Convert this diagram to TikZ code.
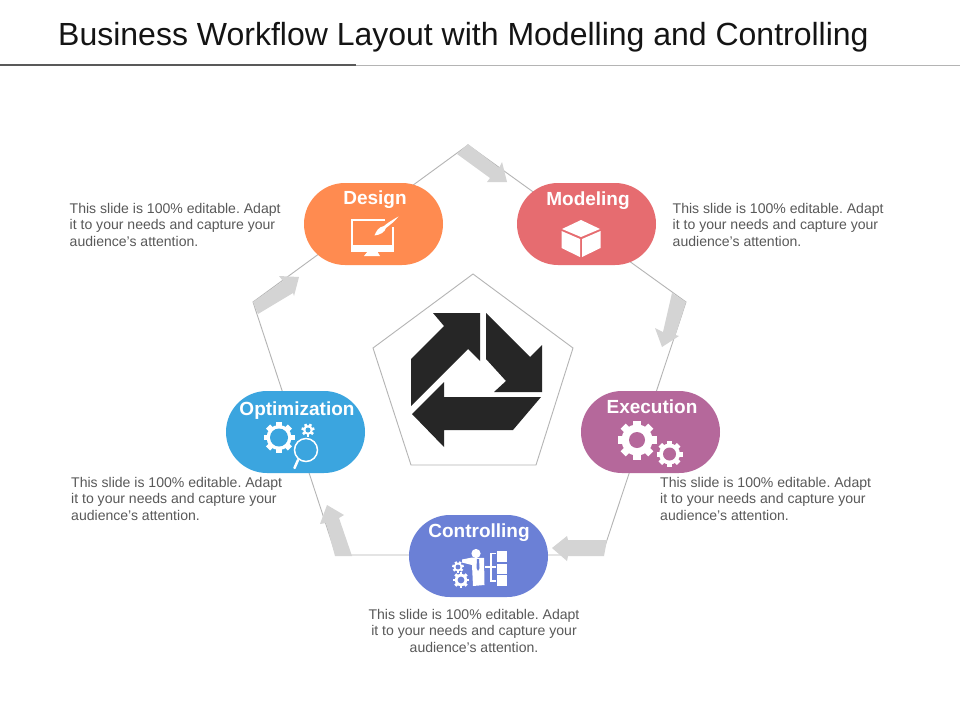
\documentclass[tikz,border=0pt]{standalone}
\usepackage{fontspec}
\setmainfont{Liberation Sans}
\frenchspacing
\definecolor{cDesign}{HTML}{FF8B50}
\definecolor{cModel}{HTML}{E66C70}
\definecolor{cExec}{HTML}{B5689B}
\definecolor{cOpt}{HTML}{3BA5DF}
\definecolor{cCtrl}{HTML}{6B80D6}
\definecolor{cArrow}{HTML}{D4D4D4}
\definecolor{cBlack}{HTML}{262626}
\definecolor{cText}{HTML}{595959}
\definecolor{cEdge}{HTML}{B4B4B4}
\tikzset{
 pill/.style={fill=#1,draw=none,rounded corners=41pt},
 pilltitle/.style={text=white,font=\fontsize{19}{21}\selectfont\bfseries,inner sep=0pt},
 bodytext/.style={text=cText,font=\fontsize{14.05}{16.5}\selectfont,inner sep=0pt},
 flow/.style={fill=cArrow,draw=none},
 edge/.style={draw=cEdge,line width=0.9pt,line join=miter},
 ink/.style={fill=cBlack,draw=none}
}
\newcommand{\gearicon}[7]{%
 \fill[white] (#1,#2) circle[radius=#4];
 \pgfmathsetmacro{\gw}{1.9*#4/#6}
 \foreach \k in {1,...,#6}{%
  \fill[white,shift={(#1,#2)},rotate=360/#6*\k] (-\gw,0) rectangle (\gw,#3);
 }
 \fill[#7] (#1,#2) circle[radius=#5];
}
\begin{document}
\begin{tikzpicture}[x=1pt,y=-1pt]
\useasboundingbox (0,0) rectangle (960,720);
\fill[white] (0,0) rectangle (960,720);
% title
\node[anchor=west,inner sep=0pt,text=black!92,font=\fontsize{32}{36}\selectfont] (title) at (58,37) {Business Workflow Layout with Modelling and Controlling};
\coordinate (ruleL) at (0,65); \coordinate (ruleM) at (356,65); \coordinate (ruleR) at (960,65);
\draw[cEdge,line width=0.9pt] (ruleM) -- (ruleR);
\draw[black!65,line width=2.2pt] (ruleL) -- (ruleM);
% outer pentagon
\coordinate (pT) at (468,145); \coordinate (pR) at (686,302); \coordinate (pBR) at (602,555);
\coordinate (pBL) at (336,555); \coordinate (pL) at (253,302);
\draw[edge] (pT) -- (pR) -- (pBR) -- (pBL) -- (pL) -- cycle;
% inner pentagon
\coordinate (qT) at (473,274); \coordinate (qR) at (573,348); \coordinate (qBR) at (536,465);
\coordinate (qBL) at (411,465); \coordinate (qL) at (373,348);
\draw[edge] (qT) -- (qR) -- (qBR) -- (qBL) -- (qL) -- cycle;
% grey arrows
\fill[flow] (457,154) -- (468,144) -- (499,168) -- (502,162) -- (507,182) -- (487,182) -- (490,178) -- cycle;
\fill[flow] (672,293) -- (686,302) -- (675.5,335) -- (679,336) -- (662,347) -- (655,328) -- (663,332) -- cycle;
\fill[flow] (607,540) -- (604,556) -- (568,556) -- (567,561) -- (552,548) -- (567,536) -- (568,540) -- cycle;
\fill[flow] (352,556) -- (335,556) -- (326,523) -- (320,524) -- (327,505) -- (344,515) -- (339,518) -- cycle;
\fill[flow] (253,302) -- (258,314) -- (293,293) -- (294,296) -- (299,277) -- (279,276) -- (283,281) -- cycle;
% black arrows
\fill[ink] (433,313) -- (480,313) -- (480,361) -- (468,349) -- (411,406) -- (411,359) -- (444,326) -- cycle;
\fill[ink] (486,313) -- (530,357) -- (542,345) -- (542,392) -- (494,392) -- (506,381) -- (486,359) -- cycle;
\fill[ink] (541,397) -- (513,430) -- (444,430) -- (444,447) -- (412,414) -- (444,382) -- (444,397) -- cycle;
% pills
\fill[pill=cDesign] (304,183) rectangle (443,265);
\fill[pill=cModel] (517,183) rectangle (656,265);
\fill[pill=cExec] (581,391) rectangle (720,473);
\fill[pill=cOpt] (226,391) rectangle (365,473);
\fill[pill=cCtrl] (409,515) rectangle (548,597);
% pill titles
\node[pilltitle] (design) at (375,200) {Design};
\node[pilltitle] (modeling) at (588,201) {Modeling};
\node[pilltitle] (execution) at (652,407) {Execution};
\node[pilltitle] (optimization) at (297,411) {Optimization};
\node[pilltitle] (controlling) at (479,533) {Controlling};
% monitor icon
\draw[white,line width=1.8pt,line join=miter] (385,220) -- (352,220) -- (352,248) -- (393,248) -- (393,227);
\fill[white] (351,245) rectangle (394,251.5);
\fill[white] (368,251) -- (377,251) -- (380,256) -- (364,256) -- cycle;
\fill[white] (398.5,216.5) .. controls (392,220) and (386,224) .. (384,226) .. controls (378,227) and (376,232) .. (374.5,235.5) .. controls (380,235) and (385,232) .. (386,228) .. controls (390,225) and (395,221) .. (398.5,216.5) -- cycle;
% cube icon
\fill[white] (581,220) -- (600,229) -- (581,237) -- (562,229) -- cycle;
\fill[white] (561.5,231) -- (580,239) -- (580,257) -- (561.5,248) -- cycle;
\fill[white] (600.5,231) -- (582,239) -- (582,257) -- (600.5,248) -- cycle;
% execution gears
\gearicon{637}{440}{19.5}{15.5}{8}{8}{cExec}
\gearicon{669.5}{454}{13}{10.5}{6.5}{8}{cExec}
% optimization icon
\gearicon{279}{437.5}{15.5}{12.5}{9}{8}{cOpt}
\gearicon{308}{430}{6.5}{4.8}{2.5}{7}{cOpt}
\draw[white,line width=2.5pt,line cap=round] (298,460) -- (294.5,468);
\draw[white,line width=1.5pt,fill=cOpt] (306,450) circle[radius=11.5];
% controlling icon
\fill[white] (476,553.5) circle[radius=4.6];
\fill[white] (462,559.5) -- (472,557.5) -- (484,558) -- (484.5,585) -- (473,586) -- (472,565) -- (462,562.5) -- cycle;
\fill[cCtrl] (477,559) -- (479,559) -- (479.5,568) -- (478,571) -- (476.5,568) -- cycle;
\draw[white,line width=1.1pt] (496,553.5) -- (491,553.5) -- (491,581) -- (496,581);
\draw[white,line width=1.1pt] (485,567) -- (496,567);
\fill[white] (497,551) rectangle (506.5,562);
\fill[white] (497,563.5) rectangle (506.5,573.5);
\fill[white] (497,575) rectangle (506.5,586);
\gearicon{458}{567}{5.8}{4.4}{2.4}{7}{cCtrl}
\gearicon{461}{580}{8}{6.2}{3.4}{8}{cCtrl}
% body texts
\node[bodytext,anchor=north west,align=left] (t1) at (69.5,203) {This slide is 100\% editable. Adapt\\it to your needs and capture your\\audience's attention.};
\node[bodytext,anchor=north west,align=left] (t2) at (672.5,203) {This slide is 100\% editable. Adapt\\it to your needs and capture your\\audience's attention.};
\node[bodytext,anchor=north west,align=left] (t3) at (71,477) {This slide is 100\% editable. Adapt\\it to your needs and capture your\\audience's attention.};
\node[bodytext,anchor=north west,align=left] (t4) at (660,477) {This slide is 100\% editable. Adapt\\it to your needs and capture your\\audience's attention.};
\node[bodytext,anchor=north,align=center] (t5) at (474,609) {This slide is 100\% editable. Adapt\\it to your needs and capture your\\audience's attention.};
\end{tikzpicture}
\end{document}
